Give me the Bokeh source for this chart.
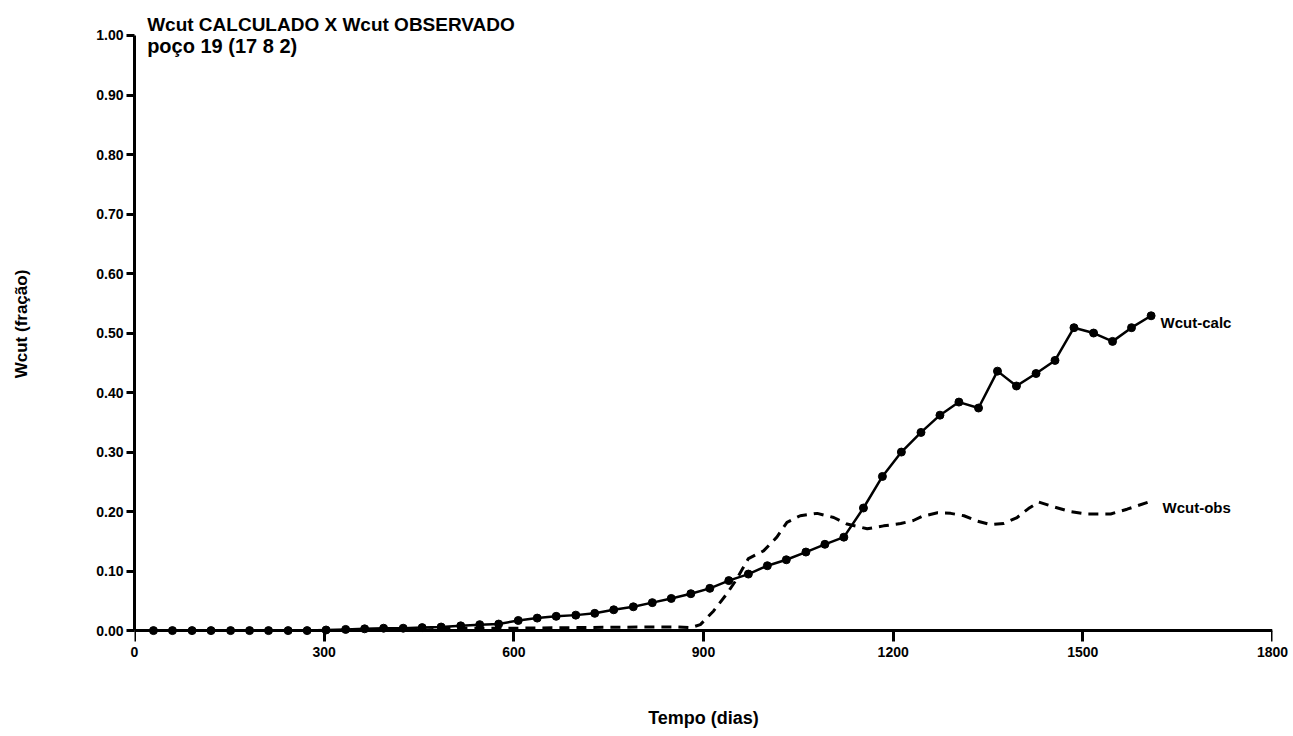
from bokeh.plotting import figure
from bokeh.models import Range1d, FixedTicker, NumeralTickFormatter, Label, LinearAxis
from bokeh.embed import file_html
from bokeh.resources import INLINE

# --- data ---
calc_dias = [30, 60, 91, 121, 152, 182, 212, 243, 273, 303, 334, 364, 394, 425,
             455, 485, 516, 546, 576, 607, 637, 667, 698, 728, 758, 789, 819, 849,
             880, 910, 940, 971, 1001, 1031, 1062, 1092, 1122, 1153, 1183, 1213,
             1244, 1274, 1304, 1335, 1365, 1395, 1426, 1456, 1486, 1517, 1547,
             1577, 1608]
calc_wcut = [0.000, 0.000, 0.000, 0.000, 0.000, 0.000, 0.000, 0.000, 0.000, 0.001,
             0.002, 0.003, 0.004, 0.004, 0.005, 0.006, 0.008, 0.010, 0.011, 0.017,
             0.021, 0.024, 0.026, 0.029, 0.035, 0.040, 0.047, 0.054, 0.062, 0.071,
             0.084, 0.095, 0.109, 0.119, 0.132, 0.145, 0.157, 0.206, 0.259, 0.300,
             0.333, 0.362, 0.384, 0.374, 0.436, 0.411, 0.432, 0.454, 0.509, 0.500,
             0.486, 0.509, 0.529]

obs_dias = [0, 450, 500, 600, 700, 800, 860, 880, 895, 916, 937, 951, 971, 995,
            1016, 1032, 1053, 1080, 1106, 1127, 1159, 1185, 1212, 1232, 1246, 1270,
            1291, 1312, 1333, 1354, 1375, 1396, 1414, 1430, 1454, 1480, 1507, 1544,
            1570, 1604]
obs_wcut = [0.000, 0.000, 0.004, 0.004, 0.005, 0.006, 0.006, 0.005, 0.010, 0.033,
            0.062, 0.084, 0.121, 0.134, 0.157, 0.182, 0.193, 0.197, 0.190, 0.179,
            0.171, 0.176, 0.180, 0.185, 0.192, 0.198, 0.197, 0.193, 0.184, 0.178,
            0.180, 0.190, 0.205, 0.216, 0.208, 0.200, 0.196, 0.196, 0.204, 0.216]

x_ticks = [0, 300, 600, 900, 1200, 1500, 1800]
y_ticks = [0.0, 0.1, 0.2, 0.3, 0.4, 0.5, 0.6, 0.7, 0.8, 0.9, 1.0]

titulo1 = "Wcut CALCULADO X Wcut OBSERVADO"
titulo2 = "poço 19 (17  8 2)"
rotulo_calc = "Wcut-calc"
rotulo_obs = "Wcut-obs"

FONT = "Liberation Sans"

p = figure(width=1293, height=736, output_backend="svg", toolbar_location=None,
           x_range=Range1d(0, 1800), y_range=Range1d(-0.02, 1.0504),
           min_border_left=134, min_border_right=21, min_border_top=5,
           min_border_bottom=94)
p.frame_width = 1138
p.frame_height = 637

p.grid.visible = False
p.outline_line_color = None
p.background_fill_color = "white"
p.border_fill_color = "white"

# x axis: labels (at frame bottom, no line/ticks)
xa = p.xaxis[0]
xa.ticker = FixedTicker(ticks=x_ticks)
xa.axis_line_color = None
xa.major_tick_line_color = None
xa.minor_tick_line_color = None
xa.major_tick_out = 0
xa.major_tick_in = 0
xa.major_label_text_font = FONT
xa.major_label_text_font_style = "bold"
xa.major_label_text_font_size = "14px"
xa.major_label_text_color = "black"
xa.major_label_standoff = 4
xa.axis_label = "Tempo (dias)"
xa.axis_label_text_font = FONT
xa.axis_label_text_font_style = "bold"
xa.axis_label_text_font_size = "18px"
xa.axis_label_text_color = "black"
xa.axis_label_standoff = 48

# x axis line and ticks, drawn at y = 0
xline = LinearAxis(fixed_location=0, bounds=(0, 1800),
                   ticker=FixedTicker(ticks=x_ticks))
xline.axis_line_width = 3
xline.axis_line_color = "black"
xline.major_tick_line_width = 3
xline.major_tick_out = 11
xline.major_tick_in = 0
xline.minor_tick_line_color = None
xline.major_label_text_font_size = "0px"
xline.major_label_text_color = None
p.add_layout(xline, "below")

# y axis
ya = p.yaxis[0]
ya.bounds = (0, 1.0)
ya.ticker = FixedTicker(ticks=y_ticks)
ya.formatter = NumeralTickFormatter(format="0.00")
ya.minor_tick_line_color = None
ya.axis_line_width = 3
ya.major_tick_line_width = 3
ya.major_tick_out = 8
ya.major_tick_in = 0
ya.major_label_text_font = FONT
ya.major_label_text_font_style = "bold"
ya.major_label_text_font_size = "14px"
ya.major_label_text_color = "black"
ya.major_label_standoff = 3
ya.axis_label = "Wcut (fração)"
ya.axis_label_text_font = FONT
ya.axis_label_text_font_style = "bold"
ya.axis_label_text_font_size = "17px"
ya.axis_label_text_color = "black"
ya.axis_label_standoff = 62

# series
p.line(obs_dias, obs_wcut, line_color="black", line_width=3, line_dash="10 7")
p.line(calc_dias, calc_wcut, line_color="black", line_width=2.5)
p.scatter(calc_dias, calc_wcut, marker="circle", size=8, fill_color="black",
          line_color="black")

# labels at line ends
p.add_layout(Label(x=calc_dias[-1] + 15, y=calc_wcut[-1] - 0.011, text=rotulo_calc,
                   text_font=FONT, text_font_style="bold", text_font_size="15px",
                   text_color="black", text_baseline="middle"))
p.add_layout(Label(x=obs_dias[-1] + 22, y=obs_wcut[-1] - 0.009, text=rotulo_obs,
                   text_font=FONT, text_font_style="bold", text_font_size="15px",
                   text_color="black", text_baseline="middle"))

# titles
p.add_layout(Label(x=20, y=1.036, text=titulo1, text_font=FONT,
                   text_font_style="bold", text_font_size="19px",
                   text_color="black", text_baseline="top"))
p.add_layout(Label(x=20, y=1.0, text=titulo2, text_font=FONT,
                   text_font_style="bold", text_font_size="20px",
                   text_color="black", text_baseline="top"))

open("out.html", "w").write(file_html(p, INLINE))
